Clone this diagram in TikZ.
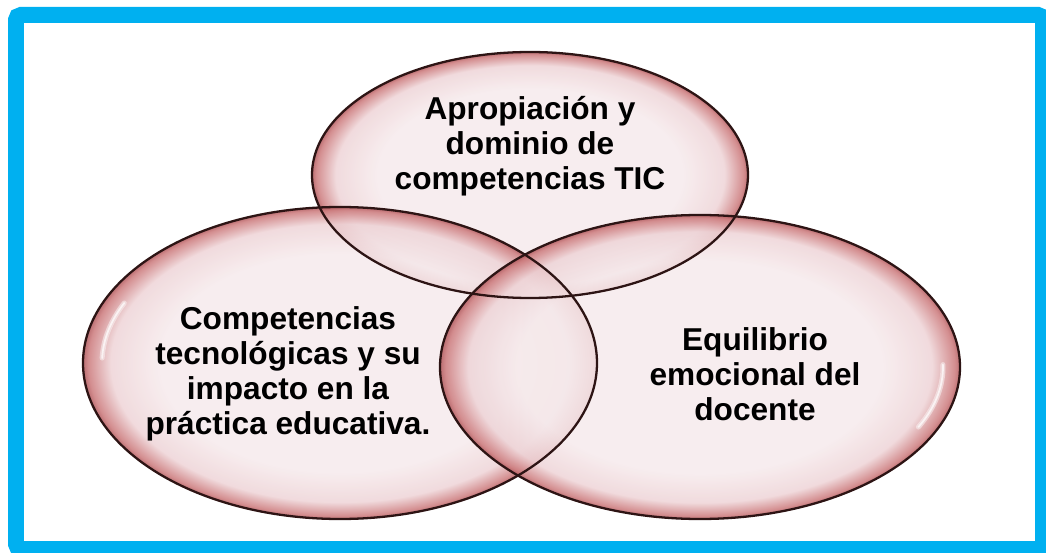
\documentclass[tikz,border=0pt]{standalone}
\usepackage{fontspec}
\setmainfont{Liberation Sans}
\usepackage{xcolor}
\usepackage{tikz}
\usetikzlibrary{shapes.geometric}

\definecolor{framecyan}{RGB}{0,176,240}
\definecolor{bubblein}{RGB}{246,234,236}
\definecolor{bubblemid}{RGB}{238,212,215}
\definecolor{bubbleout}{RGB}{204,122,124}
\definecolor{bubbleedge}{RGB}{176,86,90}
\definecolor{rimline}{RGB}{45,20,20}
\pgfdeclareradialshading{bubble}{\pgfpoint{0bp}{0bp}}{color(0bp)=(bubblein); color(17.5bp)=(bubblein); color(22.3bp)=(bubblemid); color(24.5bp)=(bubbleout); color(25bp)=(bubbleedge); color(50bp)=(bubbleedge)}

\begin{document}
\begin{tikzpicture}[
      x=0.02cm, y=0.02cm,
      bubble/.style     = {ellipse, inner sep=0pt, shade, shading=bubble,
                           fill opacity=0.85},
      rim/.style        = {draw=rimline, line width=1.3pt},
      gloss/.style      = {white, line width=0.1cm, opacity=0.45,
                           line cap=round},
      shine/.style      = {white, line width=0.035cm, opacity=0.7,
                           line cap=round},
      txt/.style        = {font=\fontsize{18}{19.8}\selectfont\bfseries,
                           align=center, text=black},
      outerframe/.style = {draw=framecyan, line width=0.32cm,
                           rounded corners=0.1cm},
    ]
    \useasboundingbox (0,0) rectangle (1046,552);
    \draw[outerframe] (16,3) rectangle (1043,537);

    \node[bubble, minimum width=8.72cm, minimum height=4.92cm]  (tic) at (530,377) {};
    \node[bubble, minimum width=10.28cm, minimum height=6.24cm] (tec) at (340,189) {};
    \node[bubble, minimum width=10.4cm, minimum height=6.08cm]  (emo) at (700,185) {};

    % outlines on top of all fills
    \foreach \n/\rx/\ry in {tic/218/123, tec/257/156, emo/260/152}
      \draw[rim] (\n.center) ellipse [x radius=\rx, y radius=\ry];

    % soft highlights
    \foreach \s in {gloss, shine} {
      \draw[\s] (tec.center) ++(155:238 and 142) arc[start angle=155, end angle=178, x radius=238, y radius=142];
      \draw[\s] (emo.center) ++(-26:243 and 137) arc[start angle=-26, end angle=1, x radius=243, y radius=137];
    }

    \node[txt] (ttic) at (530,406) {Apropiación y\\dominio de\\competencias TIC};
    \node[txt] (ttec) at (288,178) {Competencias\\tecnológicas y su\\impacto en la\\práctica educativa.};
    \node[txt] (temo) at (755,178) {Equilibrio\\emocional del\\docente};
  \end{tikzpicture}
\end{document}
